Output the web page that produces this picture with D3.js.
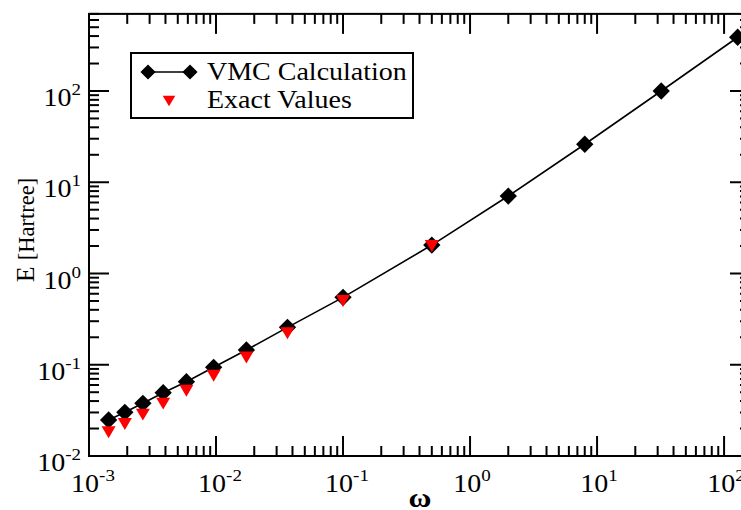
<!DOCTYPE html>
<html>
<head>
<meta charset="utf-8">
<script src="https://cdn.jsdelivr.net/npm/d3@7"></script>
<style>
  html, body { margin: 0; padding: 0; background: #fff; }
  svg { display: block; }
</style>
</head>
<body>
<svg id="chart" width="741" height="510" font-family="'Liberation Serif', 'Times New Roman', serif"></svg>
<script>
// Harmonic-oscillator frequencies (omega) and ground-state energies in Hartree
const omegaVMC = [0.00142705, 0.00191497, 0.00265627, 0.00383732, 0.00584793, 0.00957843,
                  0.0173462, 0.0365373, 0.1, 0.5, 2, 8, 32, 128];
const energyVMC = [0.0248, 0.0301, 0.0378, 0.0494, 0.0652, 0.0937,
                   0.145, 0.257, 0.548, 2.05, 7.06, 26.1, 100, 388];

const omegaExact = [0.00142705, 0.00191497, 0.00265627, 0.00383732, 0.00584793, 0.00957843,
                    0.0173462, 0.0365373, 0.1, 0.5];
const energyExact = [0.0182, 0.0224, 0.0284, 0.0375, 0.0518, 0.0757,
                     0.120, 0.221, 0.5, 2.0];

const xTickExponents = [-3, -2, -1, 0, 1, 2];
const yTickExponents = [-2, -1, 0, 1, 2];
const seriesNames = ["VMC Calculation", "Exact Values"];

const svg = d3.select("#chart");

// plot frame (the right edge runs off the page)
const frameL = 89, frameB = 456, frameR = 750;
const x = d3.scaleLog().domain([0.001, 160]).range([frameL, frameR]);
const yDecade = 91.25;
const yDomain = [0.01, 700];
const frameT = frameB - yDecade * Math.log10(yDomain[1] / yDomain[0]);
const y = d3.scaleLog().domain(yDomain).range([frameB, frameT]);

const SX = 1.12; // horizontal stretch of the serif lettering

function tickValues(domain) {
  const lo = Math.floor(Math.log10(domain[0])), hi = Math.ceil(Math.log10(domain[1]));
  const out = [];
  for (let e = lo; e <= hi; e++) {
    for (let m = 1; m <= 9; m++) {
      const v = m * Math.pow(10, e);
      if (v >= domain[0] * 0.999 && v <= domain[1] * 1.001) out.push({ v, major: m === 1 });
    }
  }
  return out;
}

const majorLen = 20, minorLen = 10;
const ticksG = svg.append("g").attr("stroke", "#000").attr("stroke-width", 2);

// bottom & top ticks (pointing inward)
tickValues(x.domain()).forEach(t => {
  const len = t.major ? majorLen : minorLen;
  const px = x(t.v);
  ticksG.append("line").attr("x1", px).attr("x2", px).attr("y1", frameB).attr("y2", frameB - len);
  ticksG.append("line").attr("x1", px).attr("x2", px).attr("y1", frameT).attr("y2", frameT + len);
});
// left & right ticks
tickValues(y.domain()).forEach(t => {
  const len = t.major ? majorLen : minorLen;
  const py = y(t.v);
  ticksG.append("line").attr("x1", frameL).attr("x2", frameL + len).attr("y1", py).attr("y2", py);
  ticksG.append("line").attr("x1", frameR).attr("x2", frameR - len).attr("y1", py).attr("y2", py);
});

// frame
svg.append("rect")
  .attr("x", frameL).attr("y", frameT)
  .attr("width", frameR - frameL).attr("height", frameB - frameT)
  .attr("fill", "none").attr("stroke", "#000").attr("stroke-width", 2);

// power-of-ten label helper
function powerLabel(g, exp, anchorX, baseY, align) {
  const t = g.append("text")
    .attr("font-size", 25).attr("fill", "#000")
    .attr("transform", `translate(${anchorX},${baseY}) scale(${SX},1)`)
    .attr("text-anchor", align);
  t.append("tspan").text("10");
  t.append("tspan").attr("font-size", 17).attr("dy", -11).text(String(exp));
  return t;
}

const labels = svg.append("g");
xTickExponents.forEach(e => {
  powerLabel(labels, e, x(Math.pow(10, e)) + (e < 0 ? 4 : 2), 492, "middle");
});
yTickExponents.forEach(e => {
  powerLabel(labels, e, 81, y(Math.pow(10, e)) + 15, "end");
});

// axis titles
svg.append("text")
  .attr("font-size", 28).attr("font-weight", "bold").attr("fill", "#000")
  .attr("text-anchor", "middle")
  .attr("transform", `translate(420,507) scale(${SX},1)`)
  .text("ω");

const yt = svg.append("text")
  .attr("fill", "#000")
  .attr("transform", `translate(34,230) rotate(-90)`)
  .attr("text-anchor", "middle");
yt.append("tspan").attr("font-size", 26).text("E");
yt.append("tspan").attr("font-size", 22.5).attr("dx", 6).text("[Hartree]");

// data
const plot = svg.append("g");
const diamond = d3.symbol().type(d3.symbolSquare).size(150);
const triDown = s => `M${-s},${-s * 0.85}L${s},${-s * 0.85}L0,${s * 0.85}Z`;

const vmc = omegaVMC.map((w, i) => [w, energyVMC[i]]);
const exact = omegaExact.map((w, i) => [w, energyExact[i]]);

plot.append("path")
  .datum(vmc)
  .attr("fill", "none").attr("stroke", "#000").attr("stroke-width", 1.6)
  .attr("d", d3.line().x(d => x(d[0])).y(d => y(d[1])));

plot.selectAll(".vmc").data(vmc).join("path")
  .attr("class", "vmc")
  .attr("transform", d => `translate(${x(d[0])},${y(d[1])}) rotate(45)`)
  .attr("d", diamond)
  .attr("fill", "#000");

plot.selectAll(".exact").data(exact).join("path")
  .attr("class", "exact")
  .attr("transform", d => `translate(${x(d[0])},${y(d[1])})`)
  .attr("d", triDown(7))
  .attr("fill", "#ff0000");

// legend
const lg = svg.append("g");
lg.append("rect")
  .attr("x", 131).attr("y", 53).attr("width", 282).attr("height", 65)
  .attr("fill", "#fff").attr("stroke", "#000").attr("stroke-width", 2);
lg.append("line").attr("x1", 148).attr("x2", 190).attr("y1", 72).attr("y2", 72)
  .attr("stroke", "#000").attr("stroke-width", 1.6);
[148, 190].forEach(px => {
  lg.append("path").attr("transform", `translate(${px},72) rotate(45)`)
    .attr("d", d3.symbol().type(d3.symbolSquare).size(115)).attr("fill", "#000");
});
lg.append("path").attr("transform", "translate(169,101)").attr("d", triDown(6.3)).attr("fill", "#ff0000");
lg.append("text").attr("font-size", 25).attr("fill", "#000")
  .attr("transform", `translate(207,80) scale(${SX},1)`).text(seriesNames[0]);
lg.append("text").attr("font-size", 25).attr("fill", "#000")
  .attr("transform", `translate(207,108) scale(${SX},1)`).text(seriesNames[1]);
</script>
</body>
</html>
